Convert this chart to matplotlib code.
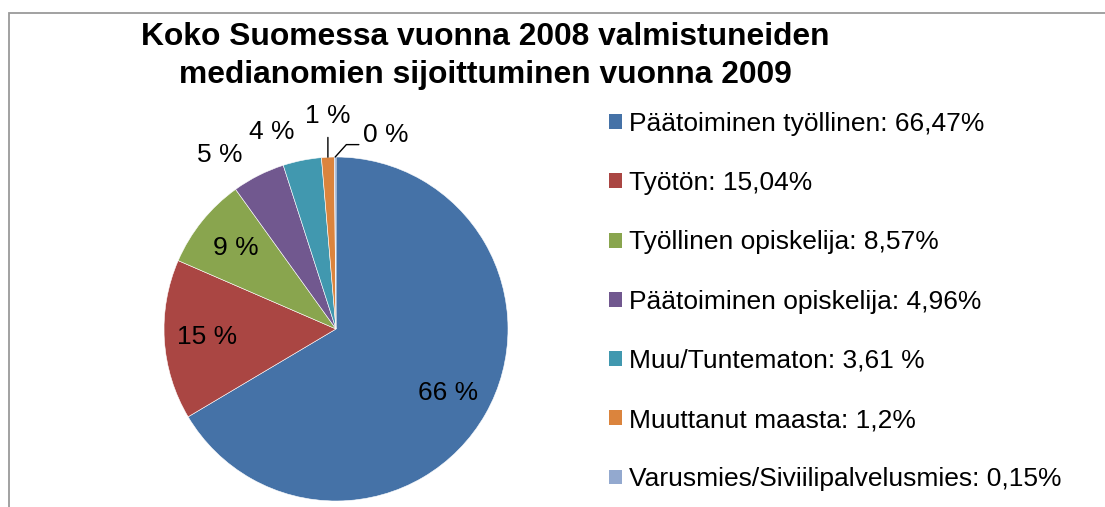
import numpy as np
import matplotlib
matplotlib.use('Agg')
import matplotlib.pyplot as plt
from matplotlib.patches import Rectangle

plt.rcParams['font.family'] = ['Liberation Sans', 'DejaVu Sans']

categories = ['Päätoiminen työllinen', 'Työtön', 'Työllinen opiskelija',
              'Päätoiminen opiskelija', 'Muu/Tuntematon', 'Muuttanut maasta',
              'Varusmies/Siviilipalvelusmies']
values = [66.47, 15.04, 8.57, 4.96, 3.61, 1.2, 0.15]
legend_values = ['66,47%', '15,04%', '8,57%', '4,96%', '3,61 %', '1,2%', '0,15%']
colors = ['#4572A7', '#AA4643', '#89A54E', '#71588F', '#4198AF', '#DB843D', '#93A9CF']

W, H = 1105, 507
fig = plt.figure(figsize=(W / 100, H / 100), dpi=100)

# chart frame (runs off the right and bottom edge)
fig.add_artist(Rectangle((9 / W, -0.2), 1.2, (H - 13) / H + 0.2, transform=fig.transFigure,
                         fill=False, edgecolor='#9a9a9a', linewidth=1.3))

# title
fig.text(485 / W, (H - 45) / H, 'Koko Suomessa vuonna 2008 valmistuneiden',
         ha='center', va='baseline', fontsize=22.9, fontweight='bold')
fig.text(485 / W, (H - 83) / H, 'medianomien sijoittuminen vuonna 2009',
         ha='center', va='baseline', fontsize=22.9, fontweight='bold')

# pie, radius 172 px, centre at (336, 329)
R, cx, cy = 172, 336, 329
ax = fig.add_axes([(cx - R) / W, (H - cy - R) / H, 2 * R / W, 2 * R / H])
wedges, _ = ax.pie(values, colors=colors, startangle=90, counterclock=False,
                   wedgeprops=dict(edgecolor='white', linewidth=0.4))
ax.set_xlim(-1, 1)
ax.set_ylim(-1, 1)
ax.set_aspect('equal')
ax.axis('off')

fs = 19
pct = [f'{round(v):.0f} %' for v in values]
mids = [np.deg2rad((w.theta1 + w.theta2) / 2) for w in wedges]

# inside labels
for i in range(3):
    r = 0.75
    ax.text(r * np.cos(mids[i]), r * np.sin(mids[i]), pct[i],
            ha='center', va='center', fontsize=fs)

# outside labels: (radius, angle shift in degrees)
out_pos = {3: (1.216, 6.9), 4: (1.204, 6.6)}
for i, (r, dt) in out_pos.items():
    a = mids[i] + np.deg2rad(dt)
    ax.text(r * np.cos(a), r * np.sin(a), pct[i], ha='center', va='center', fontsize=fs)

# leader-lined labels
a = mids[5]
ax.annotate(pct[5], xy=(np.cos(a), np.sin(a)), xytext=(np.cos(a), 1.24),
            ha='center', va='center', fontsize=fs,
            arrowprops=dict(arrowstyle='-', color='black', lw=1, shrinkA=5, shrinkB=0))
a = mids[6]
ax.annotate(pct[6], xy=(np.cos(a), np.sin(a)), xytext=(0.157, 1.125),
            ha='left', va='center', fontsize=fs,
            arrowprops=dict(arrowstyle='-', color='black', lw=1, shrinkA=1, shrinkB=0,
                            relpos=(0, 0.12),
                            connectionstyle='angle,angleA=0,angleB=48,rad=0'))
for t in ax.texts:
    t.set_clip_on(False)

# legend
labels = [f'{c}: {v}' for c, v in zip(categories, legend_values)]
leg = fig.legend(wedges, labels, loc='upper left',
                 bbox_to_anchor=(609 / W, (H - 112) / H), frameon=False,
                 fontsize=fs, handlelength=0.49, handleheight=0.49, handletextpad=0.27,
                 labelspacing=1.335, borderpad=0, borderaxespad=0)
for h in leg.legend_handles:
    h.set_edgecolor('none')

fig.savefig('out.png', dpi=100)
